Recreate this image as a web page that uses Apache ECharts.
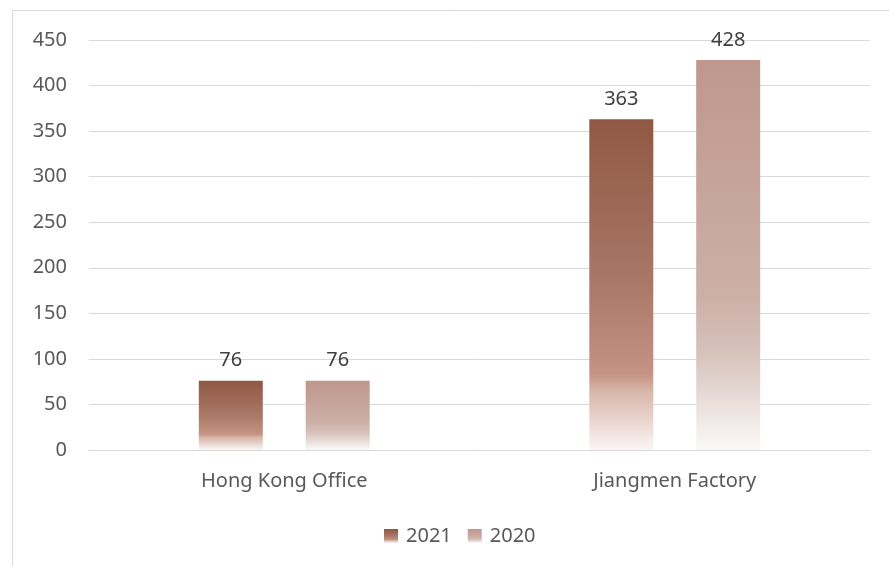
<!DOCTYPE html>
<html>
<head>
<meta charset="utf-8">
<script src="https://cdn.jsdelivr.net/npm/echarts@6/dist/echarts.min.js"></script>
<style>
html,body{margin:0;padding:0;background:#fff;}
#c{width:889px;height:566px;}
</style>
</head>
<body>
<div id="c"></div>
<script>
var categories = ['Hong Kong Office', 'Jiangmen Factory'];
var seriesNames = ['2021', '2020'];
var values2021 = [76, 363];
var values2020 = [76, 428];

var grad2021 = new echarts.graphic.LinearGradient(0, 0, 0, 1, [
  {offset: 0, color: '#8F5843'},
  {offset: 0.5, color: '#A97867'},
  {offset: 0.77, color: '#C49383'},
  {offset: 0.82, color: '#D8B5A9'},
  {offset: 1, color: '#FBF6F5'}
]);
var grad2020 = new echarts.graphic.LinearGradient(0, 0, 0, 1, [
  {offset: 0, color: '#BF978D'},
  {offset: 0.6, color: '#CCAFA6'},
  {offset: 0.75, color: '#D6C2BB'},
  {offset: 1, color: '#FBF9F8'}
]);

var chart = echarts.init(document.getElementById('c'), null, {renderer: 'canvas'});
var font = 'Noto Sans';
chart.setOption({
  animation: false,
  backgroundColor: '#ffffff',
  graphic: [{
    type: 'rect',
    shape: {x: 12.5, y: 10.5, width: 890, height: 570},
    style: {fill: 'none', stroke: '#d9d9d9', lineWidth: 1},
    silent: true
  }],
  grid: {left: 89, right: 19, top: 40, bottom: 116},
  legend: {
    bottom: 15,
    left: 379,
    itemWidth: 14,
    itemHeight: 14,
    itemGap: 16,
    icon: 'rect',
    textStyle: {fontFamily: font, fontSize: 20, color: '#595959', padding: [0, 0, 0, 3]},
    data: seriesNames
  },
  xAxis: {
    type: 'category',
    data: categories,
    axisLine: {lineStyle: {color: '#d9d9d9'}},
    axisTick: {show: false},
    axisLabel: {fontFamily: font, fontSize: 20, color: '#595959', margin: 21}
  },
  yAxis: {
    type: 'value',
    min: 0,
    max: 450,
    interval: 50,
    axisLine: {show: false},
    axisTick: {show: false},
    splitLine: {lineStyle: {color: '#d9d9d9'}},
    axisLabel: {fontFamily: font, fontSize: 20, color: '#595959', margin: 22}
  },
  series: [{
    name: seriesNames[0],
    type: 'bar',
    data: values2021,
    barWidth: 64,
    barGap: '67%',
    itemStyle: {color: grad2021},
    label: {show: true, position: 'top', distance: 10, fontFamily: font, fontSize: 20, color: '#404040'}
  }, {
    name: seriesNames[1],
    type: 'bar',
    data: values2020,
    barWidth: 64,
    barGap: '67%',
    itemStyle: {color: grad2020},
    label: {show: true, position: 'top', distance: 10, fontFamily: font, fontSize: 20, color: '#404040'}
  }]
});
</script>
</body>
</html>
